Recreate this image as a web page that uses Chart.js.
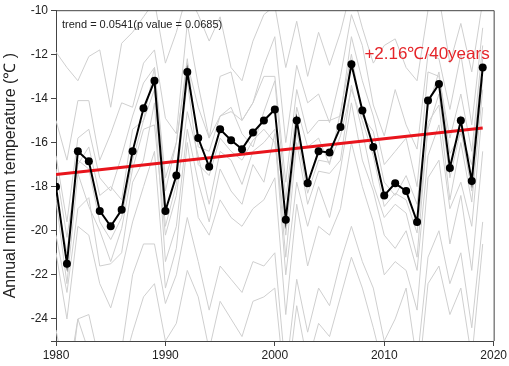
<!DOCTYPE html>
<html>
<head>
<meta charset="utf-8">
<script src="https://cdn.jsdelivr.net/npm/chart.js@4.4.1/dist/chart.umd.min.js"></script>
<style>
  html, body { margin: 0; padding: 0; background: #fff; }
</style>
</head>
<body>
<canvas id="tminChart" width="509" height="366"></canvas>
<script>
// years 1980..2019
const years = [1980,1981,1982,1983,1984,1985,1986,1987,1988,1989,1990,1991,1992,1993,1994,1995,1996,1997,1998,1999,
               2000,2001,2002,2003,2004,2005,2006,2007,2008,2009,2010,2011,2012,2013,2014,2015,2016,2017,2018,2019];

// regional mean (black)
const meanTmin = [-18.0,-21.5,-16.4,-16.85,-19.1,-19.8,-19.05,-16.4,-14.45,-13.2,-19.1,-17.5,-12.8,-15.8,-17.1,-15.4,-15.9,-16.3,-15.55,-15.0,
                  -14.5,-19.5,-15.0,-17.85,-16.4,-16.45,-15.3,-12.45,-14.55,-16.2,-18.4,-17.85,-18.2,-19.6,-14.1,-13.35,-17.15,-15.0,-17.75,-12.6];

// linear trend (red), end points
const trendYears = [1980, 2019];
const trendVals = [-17.45, -15.34];

// individual stations (grey)
const st1 = [-11.9,-12.6,-13.2,-12.1,-11.8,-14.4,-11.5,-11.0,-10.3,-9.6,-12.4,-11.0,-9.2,-10.2,-11.4,-10.3,-12.6,-13.2,-11.4,-10.2,-9.8,-12.6,-10.5,-13.0,-11.0,-12.5,-11.0,-9.0,-10.8,-12.4,-11.6,-11.3,-12.6,-13.2,-10.0,-9.4,-12.4,-10.6,-12.8,-9.6];
const st2 = [-15.0,-16.8,-14.1,-14.1,-16.8,-15.6,-14.2,-14.4,-12.4,-11.8,-14.9,-15.6,-10.6,-13.4,-15.8,-13.0,-12.8,-15.0,-14.2,-12.5,-11.2,-16.0,-12.5,-14.2,-13.8,-15.1,-13.0,-10.2,-11.6,-14.3,-15.7,-13.6,-15.2,-16.3,-12.0,-12.2,-14.5,-12.0,-15.2,-10.8];
const st3 = [-17.2,-20.3,-17.0,-16.2,-18.4,-18.0,-18.6,-15.4,-15.0,-12.6,-18.2,-16.0,-12.2,-16.2,-16.4,-14.8,-14.4,-15.6,-16.2,-14.6,-13.2,-18.6,-14.4,-16.2,-15.8,-17.0,-14.6,-12.0,-14.8,-15.5,-17.8,-18.4,-17.5,-18.8,-14.4,-12.8,-16.5,-15.6,-17.0,-12.2];
const st4 = [-18.6,-22.4,-17.4,-18.9,-20.0,-21.4,-19.9,-17.2,-15.4,-15.2,-20.2,-18.4,-14.6,-16.6,-18.8,-16.4,-16.8,-17.9,-16.4,-16.0,-15.4,-21.2,-16.0,-18.8,-17.3,-17.4,-16.8,-13.4,-15.5,-17.9,-19.4,-18.8,-19.2,-21.2,-15.1,-14.3,-18.6,-16.0,-18.7,-13.6];
const st5 = [-20.2,-22.8,-19.0,-18.5,-21.6,-21.5,-21.0,-17.8,-16.8,-14.2,-21.4,-19.8,-15.4,-17.8,-19.6,-17.2,-18.2,-18.8,-17.0,-17.8,-15.6,-22.0,-17.8,-19.8,-18.0,-19.4,-17.2,-14.2,-16.8,-18.2,-20.2,-20.8,-20.0,-21.8,-16.6,-15.2,-19.0,-17.8,-19.8,-14.4];
const st6 = [-21.0,-24.0,-19.8,-20.2,-22.4,-23.5,-21.8,-19.6,-18.0,-16.4,-22.6,-20.8,-16.0,-19.4,-20.2,-18.6,-19.4,-19.8,-19.0,-18.6,-17.6,-23.8,-18.8,-21.6,-19.8,-20.2,-19.0,-16.0,-18.0,-19.6,-22.0,-21.4,-21.8,-23.6,-17.6,-16.8,-20.6,-18.4,-21.8,-16.4];
const st7 = [-24.5,-27.0,-24.0,-23.8,-26.0,-26.8,-25.4,-22.0,-20.6,-20.6,-23.3,-22.0,-19.4,-21.4,-23.6,-21.6,-22.2,-22.8,-21.4,-21.6,-21.0,-26.5,-22.2,-24.6,-22.6,-23.4,-21.4,-19.8,-21.4,-22.6,-25.0,-24.0,-22.6,-26.0,-21.2,-20.0,-22.4,-21.0,-24.4,-19.6];
const st8 = [-26.0,-28.0,-24.0,-25.5,-27.0,-28.0,-26.4,-24.6,-23.0,-22.4,-25.0,-24.2,-21.8,-23.0,-25.4,-23.2,-24.0,-24.8,-23.2,-23.0,-22.6,-27.5,-23.4,-26.0,-24.2,-24.8,-23.0,-21.2,-22.6,-24.4,-26.4,-25.4,-25.0,-27.4,-22.4,-21.6,-23.8,-22.6,-25.8,-20.6];
const st9 = [-16.6,-19.6,-15.8,-15.4,-17.6,-18.2,-16.6,-14.8,-13.3,-12.6,-17.6,-16.0,-12.4,-14.4,-15.8,-14.8,-14.6,-15.0,-14.2,-13.0,-13.0,-17.8,-13.6,-15.6,-15.0,-15.0,-14.8,-11.2,-13.2,-14.8,-17.0,-16.4,-15.8,-18.0,-12.8,-13.0,-15.8,-13.8,-16.4,-11.6];
const st10 = [-18.4,-21.0,-16.8,-17.2,-19.6,-20.4,-19.4,-16.8,-15.0,-13.6,-19.8,-17.9,-13.2,-17.0,-17.5,-15.8,-16.4,-16.8,-15.9,-15.4,-16.0,-20.2,-15.5,-18.3,-16.8,-16.9,-15.7,-13.6,-15.0,-16.6,-18.9,-18.3,-18.6,-20.1,-15.4,-13.8,-17.6,-15.4,-18.2,-13.1];
const stations = [st1, st2, st3, st4, st5, st6, st7, st8, st9, st10];

const trendText = 'trend = 0.0541(p value = 0.0685)';
const rateText = '+2.16\u2103/40years';

function toPoints(xs, ys) {
    return ys.map((v, i) => ({x: xs[i], y: v}));
}

const greySets = stations.map(s => ({
    data: toPoints(years, s),
    borderColor: '#cfcfcf',
    borderWidth: 1,
    pointRadius: 0,
    tension: 0,
    order: 3
}));

// frame + text labels
const framePlugin = {
    id: 'frame',
    afterDraw(chart) {
        const {ctx, chartArea: a} = chart;
        ctx.save();
        ctx.strokeStyle = '#444';
        ctx.lineWidth = 1;
        ctx.beginPath();
        ctx.moveTo(a.left, a.top + 0.5);
        ctx.lineTo(a.right + 0.5, a.top + 0.5);
        ctx.lineTo(a.right + 0.5, a.bottom);
        ctx.stroke();
        ctx.font = '11px "Liberation Sans", Arial, sans-serif';
        ctx.fillStyle = '#222';
        ctx.textBaseline = 'middle';
        ctx.fillText(trendText, a.left + 6, a.top + 15);
        ctx.font = '17px "Liberation Sans", Arial, sans-serif';
        ctx.fillStyle = '#e5252a';
        ctx.textAlign = 'right';
        ctx.fillText(rateText, a.right - 4, a.top + 44);
        ctx.restore();
    }
};

const ctx = document.getElementById('tminChart').getContext('2d');
new Chart(ctx, {
    type: 'line',
    data: {
        datasets: [
            ...greySets,
            {
                data: toPoints(trendYears, trendVals),
                borderColor: '#e8141c',
                borderWidth: 3,
                pointRadius: 0,
                tension: 0,
                order: 2
            },
            {
                data: toPoints(years, meanTmin),
                borderColor: '#000',
                backgroundColor: '#000',
                borderWidth: 2,
                pointRadius: 4,
                pointBorderWidth: 0,
                tension: 0,
                order: 1
            }
        ]
    },
    options: {
        responsive: false,
        animation: false,
        devicePixelRatio: 1,
        layout: { padding: { top: 8, right: 9, left: 0, bottom: 0 } },
        plugins: { legend: { display: false }, tooltip: { enabled: false } },
        scales: {
            x: {
                type: 'linear',
                min: 1980,
                max: 2020,
                border: { color: '#444', width: 1 },
                grid: { drawOnChartArea: false, tickLength: 5, color: '#444' },
                ticks: {
                    stepSize: 10,
                    color: '#222',
                    padding: 2,
                    font: { family: '"Liberation Sans", Arial, sans-serif', size: 12 },
                    callback: v => String(v)
                },
                afterFit(scale) { scale.height = 25; }
            },
            y: {
                min: -25,
                max: -10,
                border: { color: '#444', width: 1 },
                grid: { drawOnChartArea: false, tickLength: 5, color: '#444' },
                ticks: {
                    stepSize: 2,
                    color: '#222',
                    padding: 3,
                    font: { family: '"Liberation Sans", Arial, sans-serif', size: 12 },
                    callback: v => (v === -25 ? '' : String(v))
                },
                title: {
                    display: true,
                    text: 'Annual minimum temperature (\u2103 )',
                    color: '#222',
                    padding: { top: 1, bottom: 2 },
                    font: { family: '"Liberation Sans", Arial, sans-serif', size: 16 }
                },
                afterFit(scale) { scale.width = 56; }
            }
        }
    },
    plugins: [framePlugin]
});
</script>
</body>
</html>
